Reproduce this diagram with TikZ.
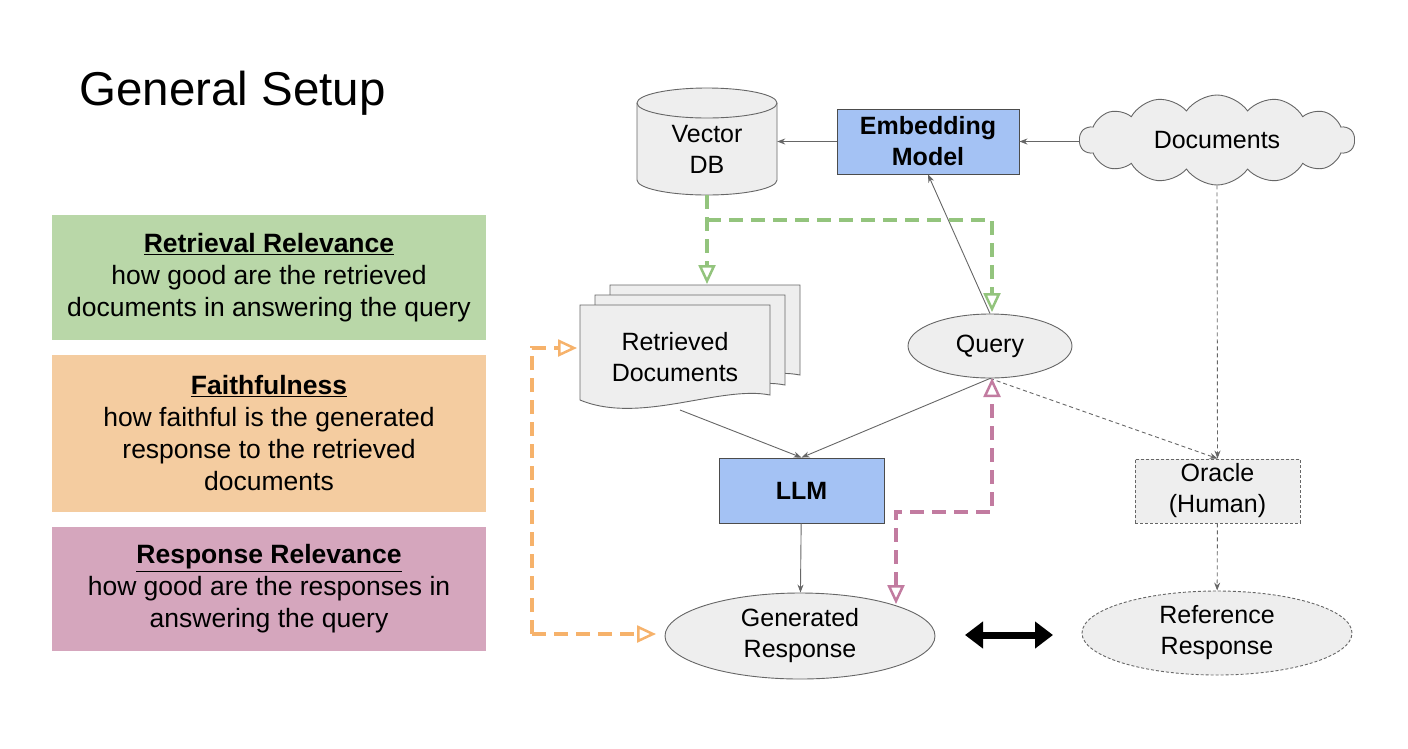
\documentclass[tikz,border=0pt]{standalone}
\usepackage{fontspec}
\setmainfont{Liberation Sans}
\usetikzlibrary{shapes.geometric,shapes.symbols,shapes.multipart,arrows.meta}
\definecolor{gbox}{HTML}{B9D7A8}
\definecolor{obox}{HTML}{F4CCA0}
\definecolor{pbox}{HTML}{D5A6BD}
\definecolor{blu}{HTML}{A4C2F4}
\definecolor{lg}{HTML}{EEEEEE}
\definecolor{gln}{HTML}{93C47D}
\definecolor{oln}{HTML}{F6B26B}
\definecolor{pln}{HTML}{C27BA0}
\begin{document}
\begin{tikzpicture}[x=1pt,y=-1pt,
  txt/.style={font=\fontsize{25}{31}\selectfont,align=center},
  metric/.style={font=\fontsize{26.5}{32}\selectfont,align=center,draw=none,minimum width=434pt,inner sep=0pt},
  gray/.style={draw=black!60,fill=lg,line width=0.9pt},
  conn/.style={draw=black!60,line width=0.9pt,-{Stealth[length=8pt,width=6pt]}},
  dconn/.style={conn,dash pattern=on 4pt off 3pt},
  otip/.tip={Triangle[open,length=19pt,width=17pt,line width=2.5pt]},
  col/.style={line width=3.5pt,dash pattern=on 14pt off 8pt,-{otip}}]
\useasboundingbox (0,0) rectangle (1408,748);
\node[anchor=west,font=\fontsize{47.5}{54}\selectfont] (title) at (76,93) {General Setup};
\node[metric,fill=gbox,minimum height=125pt] (rr) at (269,277.5) {\textbf{\underline{Retrieval Relevance}}\\how good are the retrieved\\documents in answering the query};
\node[metric,fill=obox,minimum height=157pt] (ff) at (269,433.5) {\textbf{\underline{Faithfulness}}\\how faithful is the generated\\response to the retrieved\\documents};
\node[metric,fill=pbox,minimum height=124pt] (rs) at (269,589) {\textbf{\underline{Response Relevance}}\\how good are the responses in\\answering the query};
% Vector DB (drawn cylinder)
\draw[gray] (637,103) -- (637,180) arc[start angle=180,end angle=0,x radius=70,y radius=15] -- (777,103) arc[start angle=0,end angle=-180,x radius=70,y radius=15];
\draw[gray,fill=none] (637,103) arc[start angle=180,end angle=0,x radius=70,y radius=15];
\node[minimum width=140pt,minimum height=107pt,inner sep=0pt,txt] (vdb) at (707,141.5) {};
\node[txt] (vdbt) at (707,149) {Vector\\DB};
\node[draw=black!70,fill=blu,line width=0.9pt,minimum width=182pt,minimum height=65pt,inner sep=0pt,txt,font=\fontsize{25}{31}\selectfont\bfseries] (emb) at (928,141.5) {Embedding\\Model};
\node[cloud,cloud puffs=14,cloud puff arc=110,gray,minimum width=275pt,minimum height=90pt,aspect=3.2,inner sep=0pt,txt] (docs) at (1217,140) {Documents};
% Retrieved documents
\foreach \d in {2,1}{
  \draw[gray] ({580+15*\d},{305-10*\d}) -- ({770+15*\d},{305-10*\d}) -- ({770+15*\d},{395-10*\d}) .. controls ({720+15*\d},{385-10*\d}) and ({640+15*\d},{425-10*\d}) .. ({580+15*\d},{400-10*\d}) -- cycle;}
\draw[gray] (580,305) -- (770,305) -- (770,395) .. controls (720,385) and (640,425) .. (580,400) -- cycle;
\node[txt] (ret) at (675,357) {Retrieved\\Documents};
\coordinate (retb) at (680,410);
\node[ellipse,gray,minimum width=164pt,minimum height=64pt,inner sep=0pt,txt] (q) at (990,346) {Query};
\node[draw=black!70,fill=blu,line width=0.9pt,minimum width=165pt,minimum height=65pt,txt,font=\fontsize{25}{31}\selectfont\bfseries] (llm) at (801.5,490.5) {LLM};
\node[draw=black!60,fill=lg,dash pattern=on 3pt off 2pt,line width=0.9pt,minimum width=165pt,minimum height=64pt,inner sep=0pt,txt] (or) at (1217.5,491) {Oracle\\(Human)};
\node[ellipse,gray,minimum width=270pt,minimum height=86pt,inner sep=0pt,txt] (gen) at (800,636) {Generated\\Response};
\node[ellipse,gray,dash pattern=on 3pt off 2pt,minimum width=270pt,minimum height=84pt,inner sep=0pt,txt] (ref) at (1217,633) {Reference\\Response};
\coordinate (da) at (965,635); \coordinate (db) at (1053,635);
\draw[line width=7pt,{Stealth[length=18pt,width=26pt,inset=0pt]}-{Stealth[length=18pt,width=26pt,inset=0pt]}] (da) -- (db);
% connectors
\draw[conn] (emb) -- (vdb);
\draw[conn] (docs.west |- emb) -- (emb.east);
\draw[conn] (q.north) -- (emb.south);
\draw[conn] (retb) -- (llm.north);
\draw[conn] (q.south) -- (llm.north);
\draw[conn] (llm) -- (gen);
\draw[dconn] (docs.south) -- (or.north);
\draw[dconn] (q.south) -- (or.north);
\draw[dconn] (or) -- (ref);
% coloured
\coordinate (g1) at (707,220);
\draw[col,draw=gln] (vdb.south) -- (707,284);
\draw[col,draw=gln] (g1) -- (992,220) -- (992,312);
\coordinate (o1) at (532,634);
\draw[col,draw=oln] (o1) -- (532,348) -- (577,348);
\draw[col,draw=oln] (o1) -- (656,634);
\coordinate (p1) at (896,512);
\draw[col,draw=pln,{otip}-{otip}] (896,604) -- (p1) -- (992,512) -- (992,378);
\end{tikzpicture}
\end{document}
